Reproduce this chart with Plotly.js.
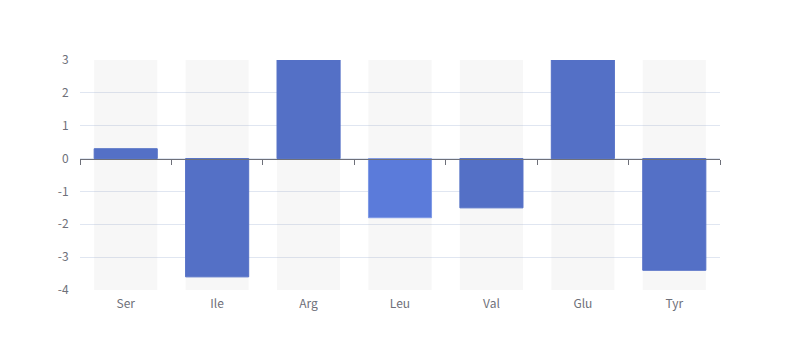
<!DOCTYPE html>
<html><head><meta charset="utf-8">
<script src="https://cdn.plot.ly/plotly-3.0.1.min.js"></script>
<style>html,body{margin:0;padding:0;background:#fff}#chart{width:800px;height:360px}</style>
</head><body><div id="chart"></div>
<script>
const categories = ['Ser','Ile','Arg','Leu','Val','Glu','Tyr'];
const values = [0.3, -3.6, 3, -1.8, -1.5, 3, -3.4];
const barColors = ['#5470c6','#5470c6','#5470c6','#5b7bda','#5470c6','#5470c6','#5470c6'];
const yRange = [-4, 3];
const yTicks = [-4, -3, -2, -1, 0, 1, 2, 3];

const bgTrace = {
  type: 'bar', x: categories,
  y: categories.map(() => yRange[1] - yRange[0]),
  base: categories.map(() => yRange[0]),
  marker: {color: 'rgba(180,180,180,0.1)'},
  hoverinfo: 'skip', showlegend: false
};
const mainTrace = {
  type: 'bar', x: categories, y: values,
  marker: {color: barColors, line: {color: barColors.map(c => c === '#5b7bda' ? '#7f9ae6' : c), width: 1}},
  showlegend: false
};
const axisTrace = {
  type: 'bar', x: categories, y: categories.map(() => null),
  xaxis: 'x2', showlegend: false, hoverinfo: 'skip'
};

const font = {family: '"Noto Sans CJK SC", "Noto Sans", sans-serif', size: 12, color: '#6e7079'};
const layout = {
  width: 800, height: 360,
  margin: {l: 80, r: 80, t: 60, b: 70},
  paper_bgcolor: '#fff', plot_bgcolor: '#fff',
  barmode: 'overlay', bargap: 0.31,
  font: font,
  showlegend: false,
  xaxis: {
    type: 'category', range: [-0.5, categories.length - 0.5],
    showline: false, showgrid: false, zeroline: false,
    ticks: 'outside', ticklen: 3, tickcolor: 'rgba(0,0,0,0)',
    tickfont: font, fixedrange: true
  },
  xaxis2: {
    type: 'category', overlaying: 'x', matches: 'x',
    anchor: 'free', position: (0 - yRange[0]) / (yRange[1] - yRange[0]),
    showline: true, linecolor: '#6e7079', linewidth: 1,
    ticks: 'outside', tickson: 'boundaries', ticklen: 5, tickcolor: '#6e7079', tickwidth: 1,
    showticklabels: false, showgrid: false, zeroline: false
  },
  yaxis: {
    range: yRange, tickvals: yTicks, ticktext: yTicks.map(String),
    showline: false, zeroline: false,
    showgrid: true, gridcolor: '#e0e6f1', gridwidth: 1,
    ticks: 'outside', ticklen: 8, tickcolor: 'rgba(0,0,0,0)',
    tickfont: font, fixedrange: true
  }
};
Plotly.newPlot('chart', [bgTrace, mainTrace, axisTrace], layout, {displayModeBar: false, staticPlot: true});
</script></body></html>
